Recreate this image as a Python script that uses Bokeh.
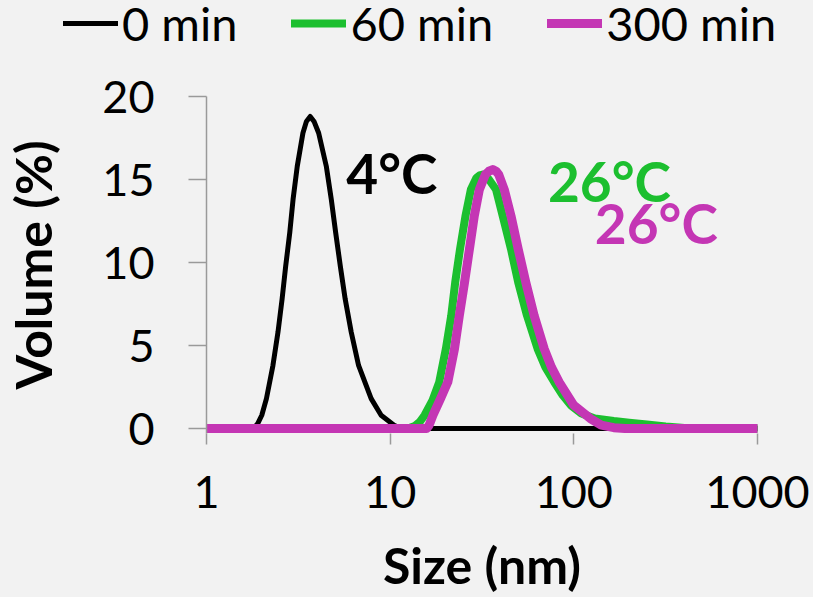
from bokeh.plotting import figure
from bokeh.layouts import column
from bokeh.models import (Range1d, FixedTicker, BasicTickFormatter, Legend,
                          LegendItem, Label)
from bokeh.embed import file_html
from bokeh.resources import INLINE

# ---- data ----
size_0 = [1, 1.80, 1.90, 2.0, 2.12, 2.30, 2.45, 2.58, 2.70, 2.84, 2.96, 3.12,
          3.35, 3.50, 3.67, 3.85, 4.08, 4.49, 4.78, 5.05, 5.35, 5.69, 6.14,
          6.73, 7.88, 8.93, 10.5, 11.5, 1000]
vol_0 = [0, 0, 0.3, 0.8, 1.8, 3.8, 5.8, 7.8, 9.8, 11.8, 13.8, 15.8,
         17.8, 18.5, 18.8, 18.5, 17.8, 15.8, 13.8, 11.8, 9.8, 7.8, 5.8,
         3.8, 1.8, 0.8, 0.2, 0, 0]

size_60 = [1, 12.5, 13.6, 14.5, 15.4, 17.0, 18.5, 20.1, 21.5, 22.6, 24.0,
           25.7, 27.5, 29.5, 30.7, 31.9, 33.2, 34.5, 37.7, 41.0, 45.5, 49.8,
           55.6, 63.5, 70.0, 78.2, 87.0, 96.3, 110, 130, 165, 200, 250, 316,
           400, 450, 1000]
vol_60 = [0, 0, 0.15, 0.4, 0.8, 1.7, 2.8, 4.8, 6.8, 8.8, 10.8,
          12.8, 14.4, 15.1, 15.25, 15.3, 15.2, 15.0, 14.4, 12.8, 10.8, 8.8,
          6.8, 4.8, 3.7, 2.8, 2.0, 1.4, 0.9, 0.6, 0.45, 0.35, 0.25, 0.12,
          0.03, 0, 0]

size_300 = [1, 15.8, 16.3, 17.1, 18.8, 20.6, 22.4, 23.8, 25.4, 27.0, 28.7,
            30.6, 33.0, 34.5, 36.2, 37.7, 39.0, 41.8, 45.5, 49.8, 54.8, 60.8,
            69.0, 75.5, 83.2, 100, 123, 141, 165, 190, 1000]
vol_300 = [0, 0, 0.2, 0.8, 1.8, 2.8, 4.8, 6.8, 8.8, 10.8, 12.8,
           14.4, 15.3, 15.5, 15.6, 15.5, 15.3, 14.4, 12.8, 10.8, 8.8, 6.8,
           4.8, 3.7, 2.8, 1.4, 0.6, 0.2, 0.05, 0, 0]

series_names = ["0 min", "60 min", "300 min"]
temp_labels = ["4°C", "26°C", "26°C"]
label_x = [5.77, 72.3, 130.0]
label_y = [15.4, 14.9, 12.4]
x_ticks = [1, 10, 100, 1000]
y_ticks = [0, 5, 10, 15, 20]

colors = ["#000000", "#1cbf2f", "#c436b4"]
widths = [5, 8, 9]
BG = "#f2f2f2"
AXIS = "#9a9a9a"
FONT = "Lato"
TOP_H = 60

sizes = [size_0, size_60, size_300]
vols = [vol_0, vol_60, vol_300]

# ---- main plot ----
p = figure(width=813, height=597 - TOP_H, x_axis_type="log",
           x_range=Range1d(1, 1000), y_range=Range1d(-0.3, 20),
           output_backend="svg", toolbar_location=None, frame_align=False,
           min_border_left=205, min_border_right=56,
           min_border_top=96 - TOP_H, min_border_bottom=162,
           background_fill_color=BG, border_fill_color=BG,
           outline_line_color=None)
p.grid.visible = False

for xs, ys, c, w in zip(sizes, vols, colors, widths):
    p.line(xs, ys, line_color=c, line_width=w, line_join="round",
           line_cap="round")

xa = p.xaxis[0]
xa.ticker = FixedTicker(ticks=x_ticks)
xa.formatter = BasicTickFormatter(use_scientific=False)
xa.axis_line_color = None
xa.major_tick_out = 11
xa.major_tick_in = 0
xa.major_label_standoff = 31
xa.axis_label = "Size (nm)"
xa.axis_label_standoff = 24

ya = p.yaxis[0]
ya.ticker = FixedTicker(ticks=y_ticks)
ya.axis_line_color = AXIS
ya.major_tick_out = 18
ya.major_tick_in = 0
ya.major_label_standoff = 34
ya.axis_label = "Volume (%)"
ya.axis_label_standoff = 36

for ax in (xa, ya):
    ax.axis_line_width = 1.5
    ax.major_tick_line_color = AXIS
    ax.major_tick_line_width = 1.5
    ax.minor_tick_line_color = None
    ax.major_label_text_font = FONT
    ax.major_label_text_font_size = "45px"
    ax.major_label_text_color = "black"
    ax.axis_label_text_font = FONT
    ax.axis_label_text_font_size = "50px"
    ax.axis_label_text_font_style = "bold"
    ax.axis_label_text_color = "black"

for t, lx, ly, c in zip(temp_labels, label_x, label_y, colors):
    p.add_layout(Label(x=lx, y=ly, text=t, text_font=FONT,
                       text_font_size="55px", text_font_style="bold",
                       text_color=c, text_baseline="alphabetic",
                       text_align="left"))

# ---- legend strip above the plot (key lines lie outside its view) ----
lg = figure(width=813, height=TOP_H, x_range=Range1d(0, 1),
            y_range=Range1d(100, 101), output_backend="svg",
            toolbar_location=None, x_axis_location=None,
            y_axis_location=None, frame_align=False,
            min_border_left=0, min_border_right=0,
            min_border_top=0, min_border_bottom=0,
            background_fill_color=BG, border_fill_color=BG,
            outline_line_color=None)
lg.grid.visible = False
keys = [lg.line(xs, ys, line_color=c, line_width=w, line_cap="round")
        for xs, ys, c, w in zip(sizes, vols, colors, widths)]
legend = Legend(items=[LegendItem(label=n, renderers=[r])
                       for n, r in zip(series_names, keys)],
                orientation="horizontal", location=(63, 9),
                padding=0, margin=0, spacing=54, glyph_width=55,
                label_standoff=4, label_text_font=FONT,
                label_text_font_size="47px", label_text_color="black",
                background_fill_alpha=0, border_line_alpha=0)
lg.add_layout(legend)

page = column(lg, p, spacing=0, styles={"background-color": BG})
open("out.html", "w").write(file_html(page, INLINE))
